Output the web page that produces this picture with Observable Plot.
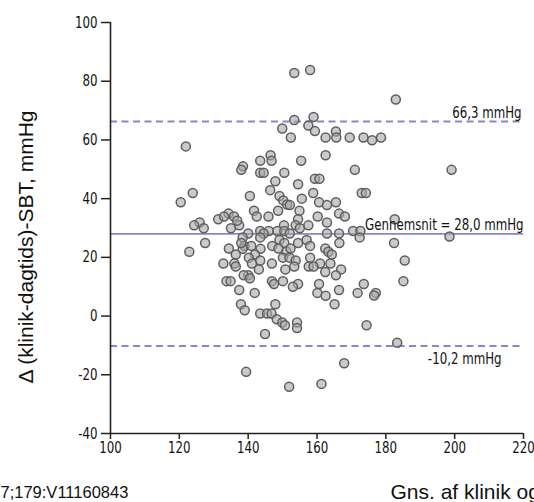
<!DOCTYPE html>
<html>
<head>
<meta charset="utf-8">
<script src="https://cdn.jsdelivr.net/npm/d3@7"></script>
<script src="https://cdn.jsdelivr.net/npm/@observablehq/plot@0.6"></script>
<style>
  html, body { margin: 0; padding: 0; background: #fff; }
  body { width: 534px; height: 502px; overflow: hidden; }
  #chart svg { display: block; }
</style>
</head>
<body>
<div id="chart"></div>
<script>
// Mean of clinic and daytime SBT (mmHg)
const meanSBT = [
  153.4,158.0,182.9,153.4,159.0,157.5,149.9,159.4,152.4,162.5,
  165.5,165.6,169.5,173.5,176.0,178.6,121.9,162.5,146.5,146.8,
  143.5,155.4,138.5,138.0,171.0,199.1,143.5,144.5,150.5,159.4,
  160.7,147.9,154.5,146.4,158.9,173.0,174.2,123.9,140.5,149.1,
  155.6,150.2,120.4,160.6,151.3,152.1,162.9,165.5,141.7,148.7,
  154.9,134.3,142.5,145.9,160.2,166.4,168.1,182.6,131.3,133.0,
  135.9,154.5,125.9,124.3,127.1,135.0,137.4,157.5,162.9,150.4,
  153.8,155.0,170.5,172.6,143.5,146.0,140.0,144.5,148.5,150.5,
  162.9,166.4,152.1,198.5,172.4,127.5,138.4,143.5,149.1,157.0,
  154.5,182.4,166.5,138.9,140.9,147.0,150.5,158.0,148.8,134.4,
  138.4,143.6,162.4,122.9,163.3,151.1,136.4,142.0,164.3,140.2,
  150.1,158.0,152.0,185.5,143.5,153.8,132.8,136.0,141.1,146.9,
  160.9,163.9,157.6,159.0,153.4,136.4,143.1,150.8,162.4,167.0,
  140.0,138.7,165.5,140.5,133.7,134.9,146.9,150.1,185.1,147.5,
  154.5,160.6,173.6,153.0,137.4,166.4,141.9,160.1,171.8,177.1,
  176.6,162.5,137.9,147.9,165.1,139.0,143.5,145.5,146.8,148.3,
  149.9,150.7,154.2,154.2,174.4,144.9,183.3,167.9,139.4,161.3,
  151.9,136.8,152.3,138.0
];
// Difference clinic - daytime SBT (mmHg)
const diffSBT = [
  82.8,83.8,73.8,66.8,67.8,64.9,63.9,63.0,60.8,60.8,
  62.9,60.8,60.8,60.8,59.9,60.8,57.8,54.8,54.8,52.9,
  52.9,52.9,51.0,49.8,49.8,49.8,48.8,48.8,48.8,46.8,
  46.8,45.9,44.9,42.9,41.9,41.9,41.9,41.9,40.9,40.9,
  40.0,39.4,38.8,38.8,38.0,37.8,37.8,38.8,35.9,35.9,
  35.9,34.9,33.9,33.9,33.9,34.9,33.9,33.0,33.0,33.9,
  33.9,33.0,31.9,30.9,29.9,29.9,30.9,30.9,31.9,30.9,
  30.9,29.9,29.0,29.0,29.0,29.0,28.1,28.1,29.0,29.0,
  28.1,28.1,28.1,27.1,26.8,24.9,26.8,26.8,25.9,25.9,
  24.9,24.9,24.9,23.9,23.9,23.9,24.9,23.9,23.0,23.0,
  22.9,22.9,23.0,21.9,21.9,22.0,21.0,21.0,21.0,19.9,
  19.9,19.9,19.9,18.9,18.9,18.9,17.9,17.9,17.9,17.9,
  17.9,17.9,16.9,16.9,16.9,16.9,15.9,15.9,15.0,15.9,
  13.9,13.9,13.9,12.9,11.9,11.9,11.9,11.9,11.9,10.9,
  10.9,10.9,10.9,10.0,8.9,8.9,7.9,7.9,7.9,7.9,
  7.0,6.9,4.0,4.0,4.0,2.0,0.9,0.9,0.9,-1.1,
  -2.2,-3.1,-2.2,-4.1,-3.1,-6.1,-9.1,-16.1,-19.0,-23.1,
  -24.1,32.5,23.0,24.9
];

const meanDiff = 28.0;
const limits = [66.3, -10.2];
const lineLabels = ["66,3 mmHg", "Gennemsnit = 28,0 mmHg", "-10,2 mmHg"];
const lineLabelValues = [66.3, 28.0, -10.2];

const xTicks = [100, 120, 140, 160, 180, 200, 220];
const xTickLabels = ["100", "120", "140", "160", "180", "200", "220"];
const yTicks = [-40, -20, 0, 20, 40, 60, 80, 100];
const yTickLabels = ["-40", "-20", "0", "20", "40", "60", "80", "100"];

const yLabel = "Δ (klinik-dagtids)-SBT, mmHg";
const xLabel = "Gns. af klinik og dagtids-SBT, mmHg";
const sourceText = "7;179:V11160843";

const points = meanSBT.map((m, i) => ({m, d: diffSBT[i]}));

const condensed = '"DejaVu Sans Condensed", "DejaVu Sans", sans-serif';
const regular = '"Liberation Sans", Arial, sans-serif';
const lineColor = "#8985c7";

const plot = Plot.plot({
  width: 534,
  height: 502,
  marginTop: 22,
  marginLeft: 110,
  marginRight: 11,
  marginBottom: 69,
  style: {background: "#fff", color: "#111", fontFamily: condensed, fontSize: "16px", overflow: "visible"},
  x: {domain: [100, 220]},
  y: {domain: [-40, 100]},
  marks: [
    Plot.ruleY([meanDiff], {stroke: lineColor, strokeWidth: 1.6}),
    Plot.ruleY(limits, {stroke: lineColor, strokeWidth: 2, strokeDasharray: "7,4.5"}),
    Plot.dot(points, {x: "m", y: "d", r: 4.5, fill: "#a6a6a6", fillOpacity: 0.6, stroke: "#5e5e5e", strokeWidth: 1.5}),
    Plot.text([lineLabels[0]], {x: 220, y: lineLabelValues[0], textAnchor: "end", dx: -2, dy: -9, fontFamily: condensed, fontSize: 16, fill: "#111"}),
    Plot.text([lineLabels[1]], {x: 220, y: lineLabelValues[1], textAnchor: "end", dx: 0, dy: -9, fontFamily: condensed, fontSize: 16, fill: "#111"}),
    Plot.text([lineLabels[2]], {x: 220, y: lineLabelValues[2], textAnchor: "end", dx: -22, dy: 13, fontFamily: condensed, fontSize: 16, fill: "#111"}),
    Plot.axisY({ticks: yTicks, tickFormat: (d) => yTickLabels[yTicks.indexOf(d)], tickSize: 9, tickPadding: 4, label: null, fontSize: 16, stroke: "#222", strokeWidth: 1.5}),
    Plot.axisX({ticks: xTicks, tickFormat: (d) => xTickLabels[xTicks.indexOf(d)], tickSize: 6, tickPadding: 2, label: null, fontSize: 16, stroke: "#222", strokeWidth: 1.5}),
    Plot.ruleX([100], {stroke: "#222", strokeWidth: 1.6}),
    Plot.ruleY([-40], {stroke: "#222", strokeWidth: 1.6}),
    Plot.text([yLabel], {frameAnchor: "left", textAnchor: "middle", lineAnchor: "middle", rotate: -90, dx: -84, dy: 19, fontFamily: regular, fontSize: 21, fill: "#111"}),
    Plot.text([xLabel], {frameAnchor: "bottom-left", textAnchor: "start", lineAnchor: "middle", dx: 280, dy: 59, fontFamily: regular, fontSize: 21, fill: "#111"}),
    Plot.text([sourceText], {frameAnchor: "bottom-left", textAnchor: "start", lineAnchor: "middle", dx: -110, dy: 59, fontFamily: regular, fontSize: 16.5, fill: "#111"})
  ]
});

// Narrow the tick and line-label texts horizontally (condensed look of the original)
const narrowTexts = new Set([...lineLabels, ...xTickLabels, ...yTickLabels]);
d3.select(plot).selectAll("text").each(function () {
  if (!narrowTexts.has(this.textContent)) return;
  const t = this.getAttribute("transform");
  if (t) this.setAttribute("transform", `${t} scale(0.82,1)`);
});

document.getElementById("chart").appendChild(plot);
</script>
</body>
</html>
